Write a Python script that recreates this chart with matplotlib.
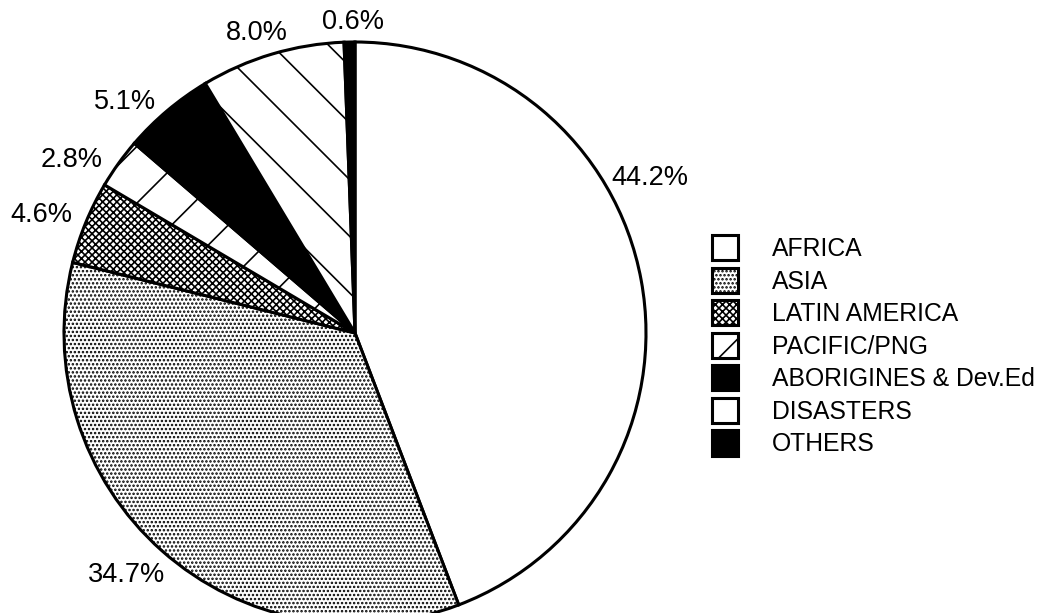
import matplotlib
matplotlib.use("Agg")
import matplotlib.pyplot as plt

# output size in pixels; a higher dpi keeps the hatch lines well spaced
DPI = 170
W, H = 1039, 613

regions = ["AFRICA", "ASIA", "LATIN AMERICA", "PACIFIC/PNG",
           "ABORIGINES & Dev.Ed", "DISASTERS", "OTHERS"]
shares = [44.2, 34.7, 4.6, 2.8, 5.1, 8.0, 0.6]
face = ["white", "white", "white", "white", "black", "white", "black"]
hatches = [None, ".......", "xxxxxxxx", "/", None, "\\", None]
# where each percentage goes, in pie-radius units from the centre
label_xy = [(1.014, 0.533), (-0.784, -0.832), (-1.079, 0.405), (-0.973, 0.595),
            (-0.790, 0.794), (-0.337, 1.031), (-0.007, 1.069)]

# pie centre and radius in pixels
cx, cy, r = 355, 333, 291

plt.rcParams['font.family'] = ['Liberation Sans', 'DejaVu Sans']
plt.rcParams['hatch.linewidth'] = 0.7
plt.rcParams['hatch.color'] = 'black'

fig = plt.figure(figsize=(W / DPI, H / DPI), dpi=DPI)
ax = fig.add_axes([0, 0, 1, 1])

wedges, _ = ax.pie(shares, startangle=90, counterclock=False, colors=face,
                   wedgeprops=dict(edgecolor='black', linewidth=1.3))
for w, h in zip(wedges, hatches):
    if h:
        w.set_hatch(h)

for (x, y), v in zip(label_xy, shares):
    ax.text(x, y, f"{v:.1f}%", ha='center', va='center', fontsize=11.5)

ax.set_xlim(-cx / r, (W - cx) / r)
ax.set_ylim(-(H - cy) / r, cy / r)
ax.set_aspect('auto')
ax.axis('off')

fig.legend(wedges, regions, loc='upper left',
           bbox_to_anchor=(712 / W, 1 - 235 / H), bbox_transform=fig.transFigure,
           frameon=False, borderpad=0, borderaxespad=0,
           handlelength=1.05, handleheight=1.2, handletextpad=1.36,
           labelspacing=0.26, fontsize=10.5)

fig.savefig('out.png', dpi=DPI)
